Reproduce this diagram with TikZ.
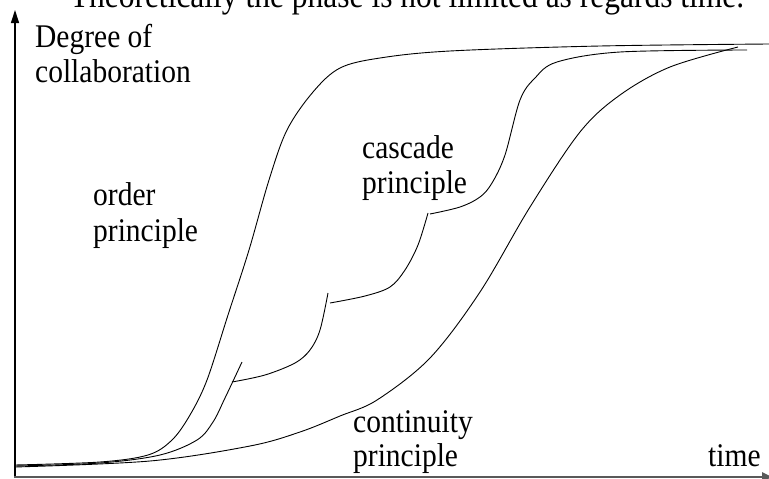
\documentclass[tikz,border=0pt]{standalone}
\usepackage{fontspec}
\setmainfont{Liberation Serif}
\usepackage{graphicx}
\usepackage{tikz}
\usetikzlibrary{arrows.meta}

% labels in the reference are a bit taller than plain Times
\newcommand{\tallt}[1]{\scalebox{1}[1.12]{#1}}

\begin{document}
\begin{tikzpicture}[x=1pt,y=-1pt,
    lbl/.style={inner sep=0pt,anchor=base west,font=\fontsize{29.5}{35}\selectfont},
    curve/.style={line width=0.9pt,smooth,tension=0.55}]
      \useasboundingbox (0,0) rectangle (769,479);
      \clip (0,0) rectangle (769,479);
      \node[inner sep=0pt,anchor=base,font=\fontsize{31.5}{37}\selectfont] (title) at (407,7) {\tallt{Theoretically the phase is not limited as regards time.}};

      % axes
      \draw[line width=1.2pt,-{Triangle[length=13pt,width=8pt]}] (15,477) -- (15,10);
      \draw[line width=2.5pt,black!65,-{Triangle[length=10pt,width=9pt]}] (14,477) -- (772,477);

      \node[lbl] (ylbl1) at (35,47) {\tallt{Degree of}};
      \node[lbl] (ylbl2) at (35,82) {\tallt{collaboration}};
      \node[lbl] (xlbl) at (708,466) {\tallt{time}};

      \node[lbl] (order1) at (93,205) {\tallt{order}};
      \node[lbl] (order2) at (93,241) {\tallt{principle}};
      \node[lbl] (casc1) at (362,158) {\tallt{cascade}};
      \node[lbl] (casc2) at (362,193) {\tallt{principle}};
      \node[lbl] (cont1) at (353,432) {\tallt{continuity}};
      \node[lbl] (cont2) at (353,466) {\tallt{principle}};

      % order principle
      \draw[curve] plot coordinates {(15,465) (100,462) (148,455) (172,440) (190,415) (207,380) (228,315) (249,250) (269,180) (287,130) (313,92) (340,68) (380,58) (450,51) (600,46) (769,44)};
      % cascade principle
      \draw[curve] plot coordinates {(15,466) (100,463) (160,455) (197,440) (213,422) (225,398) (242,362)};
      \draw[curve] plot coordinates {(232,382) (265,375) (295,363) (310,350) (320,330) (328,293)};
      \draw[curve] plot coordinates {(330,303) (365,296) (390,287) (405,270) (418,245) (428,213)};
      \draw[curve] plot coordinates {(430,214) (460,207) (480,197) (492,183) (505,155) (520,100) (535,78) (557,62) (620,52) (747,50)};
      % continuity principle
      \draw[curve] plot coordinates {(15,467) (150,461) (250,446) (300,432) (340,416) (377,400) (430,358) (480,292) (530,207) (580,132) (620,95) (670,67) (738,47)};
\end{tikzpicture}
\end{document}
